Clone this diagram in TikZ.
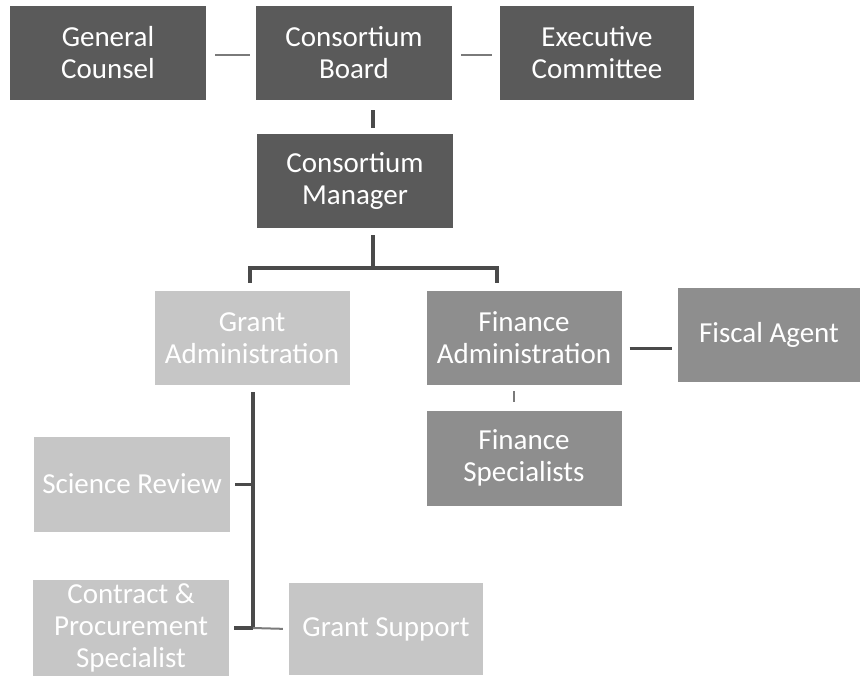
\documentclass[tikz,border=0pt]{standalone}
\usepackage{fontspec}
\setmainfont{Carlito}
\definecolor{darkbox}{HTML}{5A5A5A}
\definecolor{midbox}{HTML}{8E8E8E}
\definecolor{lightbox}{HTML}{C6C6C6}
\definecolor{lineclr}{HTML}{4A4A4A}
\definecolor{thinclr}{HTML}{7A7A7A}
\begin{document}
\begin{tikzpicture}[x=1pt,y=-1pt,
  box/.style={rectangle, inner sep=0pt, text=white, align=center,
    font=\fontsize{29}{32}\selectfont, minimum width=196pt, minimum height=94pt},
  dbox/.style={box, fill=darkbox},
  mbox/.style={box, fill=midbox},
  lbox/.style={box, fill=lightbox},
  thick line/.style={draw=lineclr, line width=4pt},
  thin line/.style={draw=thinclr, line width=2pt}]
\useasboundingbox (0,0) rectangle (862,675);
\clip (0,0) rectangle (862,675);
% top row
\node[dbox] (gc) at (108,53) {General\\Counsel};
\node[dbox] (cb) at (354,53) {Consortium\\Board};
\node[dbox, minimum width=194pt] (ec) at (597,53) {Executive\\Committee};
\node[dbox] (cm) at (355,181) {Consortium\\Manager};
% second level
\node[lbox, minimum width=195pt] (ga) at (252,338) {Grant\\Administration};
\node[mbox, minimum width=195pt] (fa) at (524,338) {Finance\\Administration};
\node[mbox, minimum width=182pt] (fag) at (769,335) {Fiscal Agent};
\node[mbox, minimum width=195pt, minimum height=95pt] (fs) at (524,458) {Finance\\Specialists};
% grant subtree
\node[lbox, minimum height=95pt] (sr) at (132,484) {Science Review};
\node[lbox, minimum height=96pt] (cps) at (131,628) {Contract \&\\Procurement\\Specialist};
\node[lbox, minimum width=194pt, minimum height=92pt] (gs) at (386,629) {Grant Support};
% connectors
\draw[thin line, shorten <=9pt, shorten >=6pt] ([yshift=-2pt]gc.east) -- ([yshift=-2pt]cb.west);
\draw[thin line, shorten <=9pt, shorten >=8pt] ([yshift=-2pt]cb.east) -- ([yshift=-2pt]ec.west);
\draw[thick line, shorten <=10pt, shorten >=6pt] ([xshift=19pt]cb.south) -- ([xshift=18pt]cm.north);
\coordinate (tj) at (373,268);
\draw[thick line, shorten <=7pt] ([xshift=18pt]cm.south) -- (tj);
\draw[thick line] ([xshift=-2pt,yshift=8pt]ga.north) |- (tj) -| ([xshift=-27pt,yshift=8pt]fa.north);
\draw[draw=lineclr, line width=3pt, shorten <=8pt, shorten >=6pt] ([yshift=-10pt]fa.east) -- ([yshift=-13pt]fag.west);
\draw[thin line, shorten <=6pt, shorten >=8pt] ([xshift=-10pt]fa.south) -- ([xshift=-10pt]fs.north);
\coordinate (gb) at (253,628);
\draw[thick line, shorten <=7pt] ([xshift=1pt]ga.south) -- (gb);
\draw[draw=lineclr, line width=3pt, shorten <=5pt] (sr.east) -- (sr.east -| gb);
\draw[thick line, shorten <=5pt] (cps.east) -- (gb);
\draw[thin line, shorten >=6pt] (gb) -- (gs.west);
\end{tikzpicture}
\end{document}
